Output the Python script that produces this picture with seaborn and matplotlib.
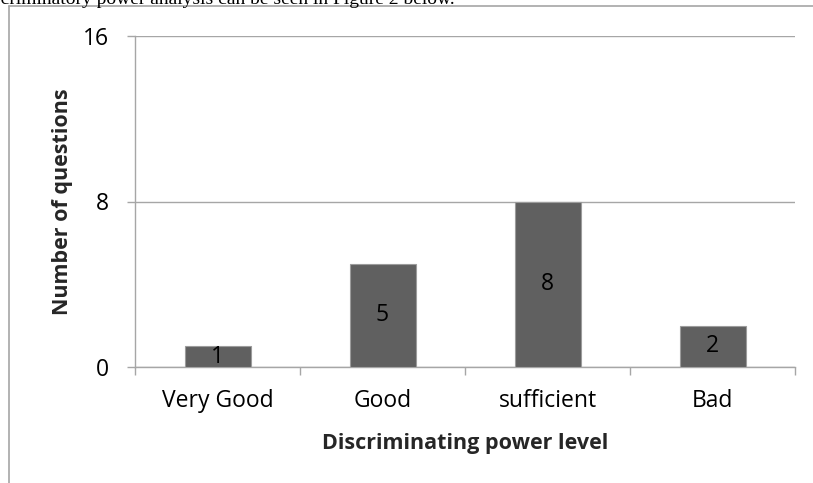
import matplotlib
matplotlib.use("Agg")
import matplotlib.pyplot as plt
from matplotlib.lines import Line2D
from matplotlib.ticker import FixedLocator
import seaborn as sns
import pandas as pd

# Discriminating power of the test items
levels = ["Very Good", "Good", "sufficient", "Bad"]
counts = [1, 5, 8, 2]
y_ticks = [0, 8, 16]

df = pd.DataFrame({"level": levels, "count": counts})

sns.set_theme(style="white")
plt.rcParams["font.family"] = ["Open Sans", "DejaVu Sans"]

W, H = 813, 483
fig = plt.figure(figsize=(W / 100, H / 100), dpi=100)
ax = fig.add_axes([135 / W, 1 - 367 / H, (795 - 135) / W, (367 - 36) / H])

BAR = "#606060"
GRID = "#a6a6a6"
FS = 16.5

sns.barplot(data=df, x="level", y="count", color=BAR, width=0.4,
            edgecolor="#9c9c9c", linewidth=0.8, saturation=1, ax=ax, zorder=3)

ax.set_ylim(0, 16)
ax.set_xlim(-0.5, len(levels) - 0.5)
ax.set_yticks(y_ticks)
ax.yaxis.grid(True, color=GRID, linewidth=1.0, zorder=0)
ax.set_axisbelow(True)

for s in ["top", "right"]:
    ax.spines[s].set_visible(False)
for s in ["left", "bottom"]:
    ax.spines[s].set_color(GRID)
    ax.spines[s].set_linewidth(1.0)

# value labels centred inside each bar
for i, v in enumerate(counts):
    ax.text(i, v / 2, str(v), ha="center", va="center", fontsize=FS, color="black")

# category boundaries carry the tick marks, centres carry the labels
ax.xaxis.set_minor_locator(FixedLocator([i - 0.5 for i in range(len(levels) + 1)]))
ax.tick_params(axis="x", which="major", length=0, pad=16, labelsize=FS, colors="black")
ax.tick_params(axis="x", which="minor", bottom=True, length=6, width=1.0, color=GRID, direction="out")
ax.tick_params(axis="y", which="major", left=True, length=6, width=1.0, color=GRID,
               direction="out", pad=13, labelsize=FS, labelcolor="black")

ax.set_xlabel("Discriminating power level", fontsize=15.5, fontweight="bold", labelpad=14)
ax.set_ylabel("Number of questions", fontsize=15.5, fontweight="bold", labelpad=7)

# page text running above the figure frame
fig.text(455 / W, 1 - 4 / H, "The result of discriminatory power analysis can be seen in Figure 2 below.",
         ha="right", va="baseline", fontsize=14, family=["Liberation Serif"], color="black")

# figure frame
fig.add_artist(Line2D([9 / W, 9 / W], [1 - 6 / H, 0], transform=fig.transFigure,
                      color=GRID, linewidth=1.2))
fig.add_artist(Line2D([9 / W, 1], [1 - 6 / H, 1 - 6 / H], transform=fig.transFigure,
                      color=GRID, linewidth=1.2))

fig.savefig("out.png", dpi=100, facecolor="white")
